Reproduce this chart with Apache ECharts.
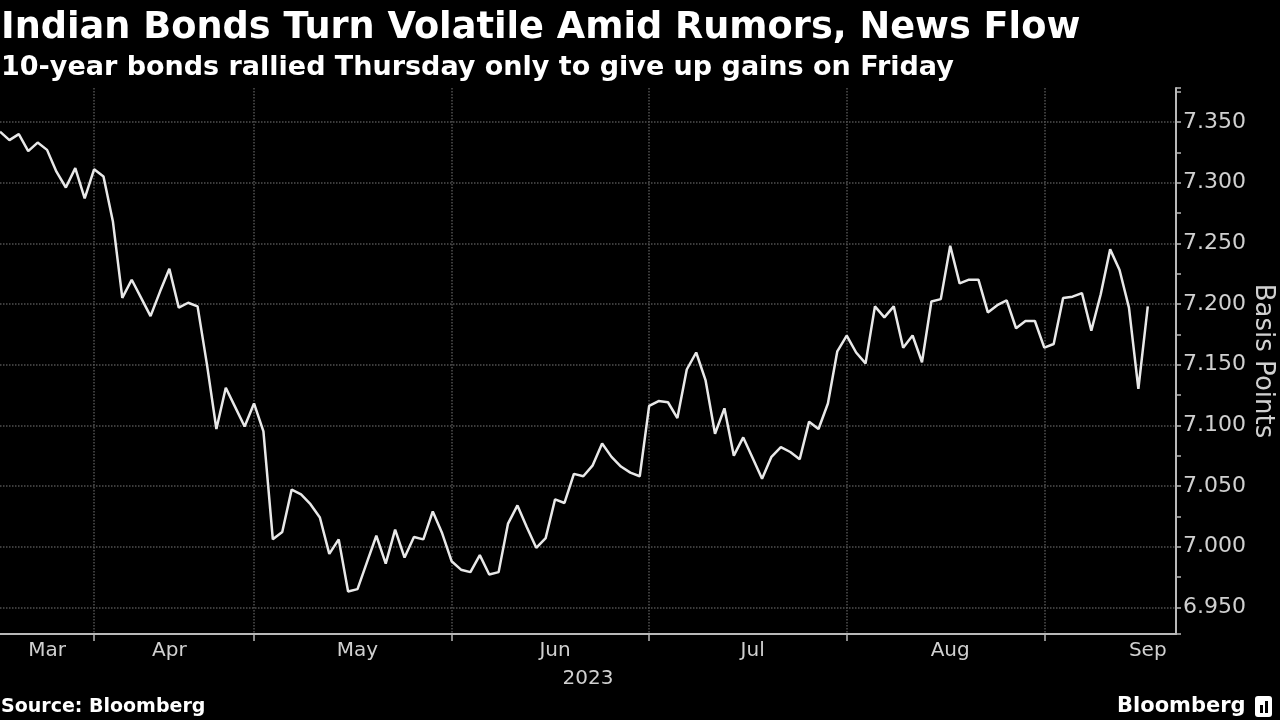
<!DOCTYPE html>
<html>
<head>
<meta charset="utf-8">
<title>Indian Bonds Turn Volatile Amid Rumors, News Flow</title>
<script src="https://cdn.jsdelivr.net/npm/echarts@6/dist/echarts.min.js"></script>
<style>
  html, body { margin: 0; padding: 0; background: #000; }
  #chart { width: 1280px; height: 720px; }
</style>
</head>
<body>
<div id="chart"></div>
<script>
// trading days shown on the axis (India bond market, weekends + holidays skipped)
const startDay = '2023-03-16'
const endDay = '2023-09-22'
const holidays = [
  '2023-03-22', '2023-03-30', '2023-04-04', '2023-04-07', '2023-04-14',
  '2023-05-01', '2023-05-05', '2023-06-29', '2023-08-15', '2023-08-16', '2023-09-19'
]

// 10-year yield, one value per trading day
const yields = [
  7.342, 7.335, 7.340, 7.326, 7.333, 7.327, 7.309, 7.296, 7.312, 7.287,
  7.311, 7.305, 7.268, 7.205, 7.220, 7.205, 7.190, 7.210, 7.229, 7.197,
  7.201, 7.198, 7.150, 7.097, 7.131, 7.115, 7.099,
  7.118, 7.095, 7.006, 7.012, 7.047, 7.043, 7.035, 7.024, 6.994, 7.006,
  6.963, 6.965, 6.987, 7.009, 6.986, 7.014, 6.991, 7.008, 7.006, 7.029, 7.011,
  6.988, 6.981, 6.979, 6.993, 6.977, 6.979, 7.019, 7.034, 7.016, 6.999,
  7.007, 7.039, 7.036, 7.060, 7.058, 7.067, 7.085, 7.074, 7.066, 7.061, 7.058,
  7.116, 7.120, 7.119, 7.106, 7.146, 7.160, 7.137, 7.093, 7.114, 7.075,
  7.090, 7.073, 7.056, 7.074, 7.082, 7.078, 7.072, 7.103, 7.097, 7.118, 7.161,
  7.174, 7.160, 7.151, 7.198, 7.189, 7.198, 7.164, 7.174, 7.152, 7.202,
  7.204, 7.248, 7.217, 7.220, 7.220, 7.193, 7.199, 7.203, 7.180, 7.186, 7.186,
  7.164, 7.167, 7.205, 7.206, 7.209, 7.178, 7.208, 7.245, 7.228, 7.197,
  7.130, 7.198
]

const monthNames = ['Jan', 'Feb', 'Mar', 'Apr', 'May', 'Jun', 'Jul', 'Aug', 'Sep', 'Oct', 'Nov', 'Dec']
// days under which the month names are written
const monthLabelDays = ['2023-03-24', '2023-04-18', '2023-05-18', '2023-06-16', '2023-07-18', '2023-08-18', '2023-09-18']
const yearLabel = '2023'

function tradingDays(from, to) {
  let out = []
  let d = new Date(from + 'T00:00:00Z')
  const end = new Date(to + 'T00:00:00Z')
  while (d <= end) {
    const s = d.toISOString().slice(0, 10)
    const wd = d.getUTCDay()
    if (wd !== 0 && wd !== 6 && holidays.indexOf(s) < 0) out.push(s)
    d.setUTCDate(d.getUTCDate() + 1)
  }
  return out
}

const days = tradingDays(startDay, endDay)
const isMonthStart = function (idx) {
  return idx > 0 && days[idx].slice(5, 7) !== days[idx - 1].slice(5, 7)
}

const axisColor = '#b8b8b8'
const labelColor = '#d0d0d0'
const gridColor = '#505050'
const font = 'DejaVu Sans'

let myChart = echarts.init(document.getElementById('chart'))
let option = {
  backgroundColor: '#000',
  animation: false,
  title: [
    {
      text: 'Indian Bonds Turn Volatile Amid Rumors, News Flow',
      left: 1, top: 10, padding: 0,
      textStyle: { color: '#fff', fontSize: 36.7, fontWeight: 'bold', fontFamily: font }
    },
    {
      text: '10-year bonds rallied Thursday only to give up gains on Friday',
      left: 1, top: 54, padding: 0,
      textStyle: { color: '#fff', fontSize: 27, fontWeight: 'bold', fontFamily: font }
    },
    {
      text: 'Source: Bloomberg',
      left: 1, top: 698, padding: 0,
      textStyle: { color: '#fff', fontSize: 19, fontWeight: 'bold', fontFamily: font }
    },
    {
      text: 'Bloomberg',
      left: 1117, top: 696, padding: 0,
      textStyle: { color: '#fff', fontSize: 21, fontWeight: 'bold', fontFamily: font }
    }
  ],
  graphic: [
    {
      type: 'rect',
      shape: { x: 1255, y: 696, width: 17, height: 21, r: 3 },
      style: { fill: '#fff' }
    },
    {
      type: 'rect',
      shape: { x: 1260, y: 705, width: 3, height: 8 },
      style: { fill: '#000' }
    },
    {
      type: 'rect',
      shape: { x: 1265, y: 701, width: 3, height: 12 },
      style: { fill: '#000' }
    }
  ],
  grid: { left: 0, right: 104, top: 88, bottom: 86, outerBoundsMode: 'none' },
  xAxis: {
    type: 'category',
    data: days,
    boundaryGap: false,
    axisLine: { lineStyle: { color: axisColor, width: 2 } },
    axisTick: {
      interval: function (idx) { return isMonthStart(idx) },
      length: 7,
      lineStyle: { color: axisColor, width: 1.5 }
    },
    axisLabel: {
      interval: function (idx, value) { return monthLabelDays.indexOf(value) >= 0 },
      formatter: function (value) { return monthNames[Number(value.slice(5, 7)) - 1] },
      color: labelColor, fontSize: 20, fontFamily: font, margin: 7
    },
    splitLine: {
      show: true,
      interval: function (idx) { return isMonthStart(idx) },
      lineStyle: { color: gridColor, type: 'dotted', width: 1.5 }
    },
    name: yearLabel,
    nameLocation: 'middle',
    nameGap: 35,
    nameMoveOverlap: false,
    nameTextStyle: { color: labelColor, fontSize: 20, fontFamily: font }
  },
  yAxis: {
    type: 'value',
    position: 'right',
    min: 6.928,
    max: 7.378,
    splitNumber: 9,
    axisLine: { show: true, lineStyle: { color: axisColor, width: 2 } },
    axisTick: { show: true, length: 5, lineStyle: { color: axisColor, width: 1.5 } },
    minorTick: { show: true, splitNumber: 2, length: 5, lineStyle: { color: axisColor, width: 1.5 } },
    axisLabel: {
      showMinLabel: false,
      showMaxLabel: false,
      formatter: function (value) { return value.toFixed(3) },
      color: labelColor, fontSize: 22, fontFamily: font, margin: 7
    },
    splitLine: {
      show: true,
      showMinLine: false,
      showMaxLine: false,
      lineStyle: { color: gridColor, type: 'dotted', width: 1.5 }
    },
    name: 'Basis Points',
    nameLocation: 'middle',
    nameRotate: -90,
    nameGap: 74,
    nameMoveOverlap: false,
    nameTextStyle: { color: labelColor, fontSize: 26, fontFamily: font }
  },
  series: [
    {
      name: '10-year yield',
      type: 'line',
      data: yields,
      symbol: 'none',
      lineStyle: { color: '#e8e8e8', width: 2.5 }
    }
  ]
}
myChart.setOption(option)

window.addEventListener('resize', function () {
  myChart.resize()
})
</script>
</body>
</html>
